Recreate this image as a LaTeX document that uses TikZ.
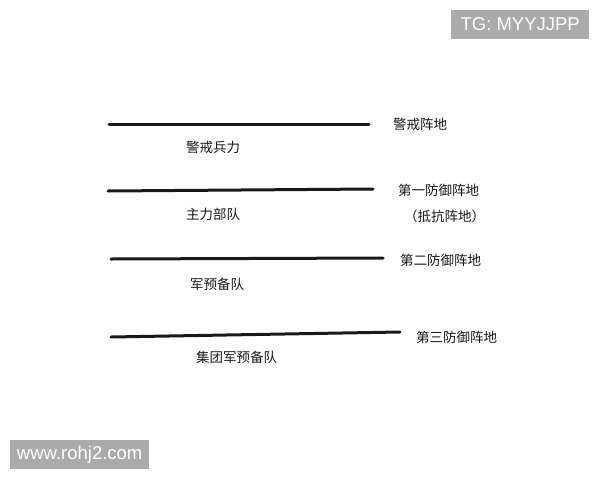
\documentclass[tikz,border=0pt]{standalone}
\usepackage{fontspec}
\newfontfamily\cjk{Noto Sans CJK SC}
\newfontfamily\wm{Liberation Sans}
\begin{document}
\begin{tikzpicture}[x=1pt,y=-1pt,
  lab/.style={font=\cjk\fontsize{13.5}{16}\selectfont, text=black!90, inner sep=0pt, anchor=west},
  front/.style={line width=3pt, black!90, line cap=round},
  wmark/.style={fill=black!33, text=white, font=\wm\fontsize{18.5}{20}\selectfont, minimum height=29pt, inner xsep=4pt, anchor=west}]
\useasboundingbox (0,0) rectangle (600,480);
\fill[white] (0,0) rectangle (600,480);
% lines
\coordinate (a1) at (109,124); \coordinate (a2) at (369,124);
\coordinate (b1) at (108,191); \coordinate (b2) at (373,189);
\coordinate (c1) at (111,259); \coordinate (c2) at (383,258);
\coordinate (d1) at (111,337); \coordinate (d2) at (400,332);
\draw[front] (a1) -- (a2);
\draw[front] (b1) -- (b2);
\draw[front] (c1) -- (c2);
\draw[front] (d1) -- (d2);
% right labels
\node[lab] (p1) at (393,124) {警戒阵地};
\node[lab] (p2) at (398,190) {第一防御阵地};
\node[lab] (p2b) at (404,216) {（抵抗阵地）};
\node[lab] (p3) at (400,260) {第二防御阵地};
\node[lab] (p4) at (416,337) {第三防御阵地};
% force labels
\node[lab] (f1) at (186,147) {警戒兵力};
\node[lab] (f2) at (186,214) {主力部队};
\node[lab] (f3) at (190,284) {军预备队};
\node[lab] (f4) at (196,357) {集团军预备队};
% watermarks
\node[wmark, minimum width=138pt] (w1) at (451,24.5) {TG: MYYJJPP};
\node[wmark, minimum width=139pt] (w2) at (10,454.5) {www.rohj2.com};
\end{tikzpicture}
\end{document}
